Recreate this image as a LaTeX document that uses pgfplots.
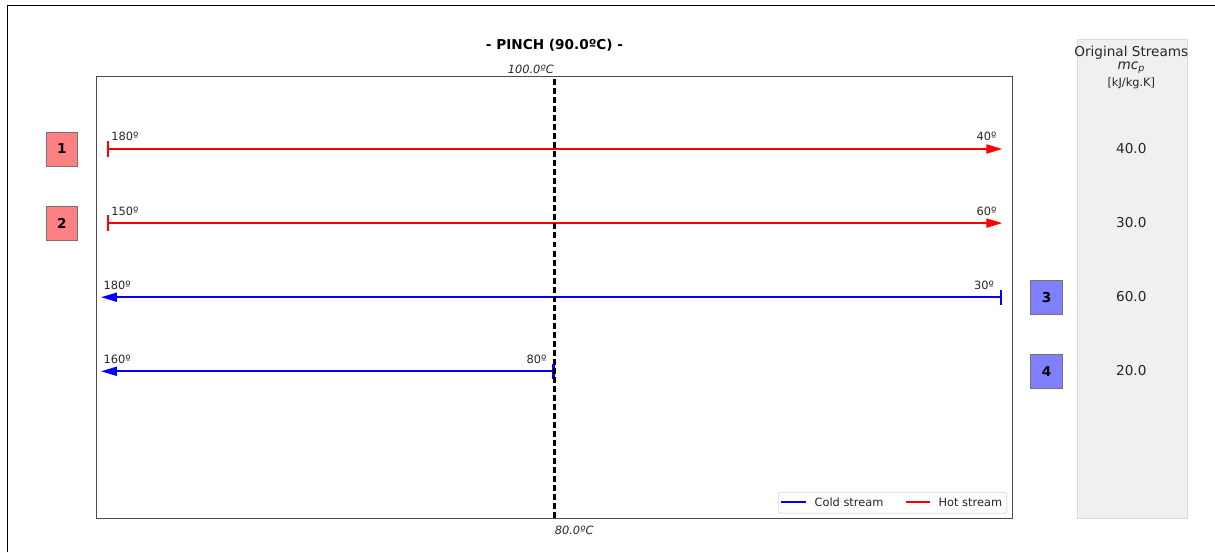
\documentclass[border=0pt]{standalone}
\usepackage{fontspec}
\setmainfont{DejaVu Sans}
\usepackage{pgfplots}
\pgfplotsset{compat=1.18}
\usetikzlibrary{arrows.meta}
\definecolor{hotbox}{HTML}{FF8080}
\definecolor{coldbox}{HTML}{8080FF}
\definecolor{panelfill}{HTML}{F0F0F0}
\definecolor{panelborder}{HTML}{DCDCDC}
\definecolor{legendborder}{HTML}{D9D9D9}
\definecolor{txt}{HTML}{262626}
\newcommand{\fs}{\fontsize{8.2}{9.8}\selectfont}
\newcommand{\fm}{\fontsize{9.8}{11.8}\selectfont}
\pgfplotsset{
  hotarrow/.style={red, line width=1.3pt, arrows={Bar[width=11pt,line width=1.5pt]-Triangle[length=11.5pt,width=6.5pt]}},
  coldarrow/.style={blue, line width=1.3pt, arrows={Bar[width=11pt,line width=1.5pt]-Triangle[length=11.5pt,width=6.5pt]}},
  pinchline/.style={black, line width=1.5pt, dash pattern=on 4.3pt off 2.2pt},
}
\begin{document}
\begin{tikzpicture}
\path[use as bounding box] (0pt,0pt) rectangle (874.8pt,397.44pt);
\draw[black, line width=0.9pt] (5.26pt,0pt) -- (5.26pt,393.3pt) -- (874.8pt,393.3pt);
\begin{axis}[
  at={(399.24pt,183.38pt)}, anchor=center,
  width=659.2pt, height=318.24pt, scale only axis,
  xmin=0, xmax=1, ymin=-5.984, ymax=-0.019,
  xtick=\empty, ytick=\empty,
  axis line style={black!70, line width=0.8pt},
  clip=false,
]
% panel
\fill[panelfill, draw=panelborder, line width=0.6pt] (axis cs:1.0707,0.480) rectangle (axis cs:1.1908,-5.987);
\node[anchor=base, font=\fm, text=txt] at (axis cs:1.1300,0.248) {Original Streams};
\node[anchor=base, font=\fm, text=txt] at (axis cs:1.1300,0.0795) {\itshape mc\textsubscript{p}};
\node[anchor=base, font=\fs, text=txt] at (axis cs:1.1300,-0.157) {[kJ/kg.K]};

% hot streams
\addplot[hotarrow] coordinates {(0.0107,-1) (0.9891,-1)};
\addplot[hotarrow] coordinates {(0.0107,-2) (0.9891,-2)};
% cold streams
\addplot[coldarrow] coordinates {(0.9891,-3) (0.0047,-3)};
\addplot[coldarrow] coordinates {(0.5,-4) (0.0047,-4)};

% pinch line
\addplot[pinchline] coordinates {(0.5,-5.984) (0.5,-0.019)};

% legend (drawn as a framed key)
\draw[legendborder, fill=white, line width=0.6pt, rounded corners=2pt] (axis cs:0.7444,-5.633) rectangle (axis cs:0.9939,-5.916);
\draw[blue, line width=1.3pt] (axis cs:0.7477,-5.764) -- (axis cs:0.7744,-5.764);
\node[anchor=west, inner sep=0pt, font=\fs, text=txt] at (axis cs:0.7838,-5.764) {Cold stream};
\draw[red, line width=1.3pt] (axis cs:0.8836,-5.764) -- (axis cs:0.9101,-5.764);
\node[anchor=west, inner sep=0pt, font=\fs, text=txt] at (axis cs:0.9192,-5.764) {Hot stream};

% temperature labels
\begin{scope}[every node/.style={font=\fs, text=txt, inner sep=0pt, yshift=5.76pt}]
\node[anchor=base west] at (axis cs:0.0156,-1) {180º};
\node[anchor=base east] at (axis cs:0.9830,-1) {40º};
\node[anchor=base west] at (axis cs:0.0156,-2) {150º};
\node[anchor=base east] at (axis cs:0.9830,-2) {60º};
\node[anchor=base west] at (axis cs:0.0072,-3) {180º};
\node[anchor=base east] at (axis cs:0.9803,-3) {30º};
\node[anchor=base west] at (axis cs:0.0072,-4) {160º};
\node[anchor=base east] at (axis cs:0.4915,-4) {80º};
\end{scope}

% pinch labels
\node[anchor=base, font=\fm\bfseries, text=black] at (axis cs:0.5,0.349) {- PINCH (90.0ºC) -};
\node[anchor=base east, inner sep=0pt, font=\fs\itshape, text=txt] at (axis cs:0.4995,0.0215) {100.0ºC};
\node[anchor=base west, inner sep=0pt, font=\fs\itshape, text=txt] at (axis cs:0.5,-6.209) {80.0ºC};

% stream boxes
\begin{scope}[every node/.style={draw=black!55, line width=0.6pt, minimum width=23pt, minimum height=24.5pt, inner sep=0pt, font=\fm\bfseries}]
\node[fill=hotbox] at (axis cs:-0.0380,-1) {1};
\node[fill=hotbox] at (axis cs:-0.0380,-2) {2};
\node[fill=coldbox] at (axis cs:1.0374,-3) {3};
\node[fill=coldbox] at (axis cs:1.0374,-4) {4};
\end{scope}

% mcp values
\begin{scope}[every node/.style={font=\fm, text=txt, yshift=0.6pt}]
\node at (axis cs:1.1300,-1) {40.0};
\node at (axis cs:1.1300,-2) {30.0};
\node at (axis cs:1.1300,-3) {60.0};
\node at (axis cs:1.1300,-4) {20.0};
\end{scope}
\end{axis}
\end{tikzpicture}
\end{document}
